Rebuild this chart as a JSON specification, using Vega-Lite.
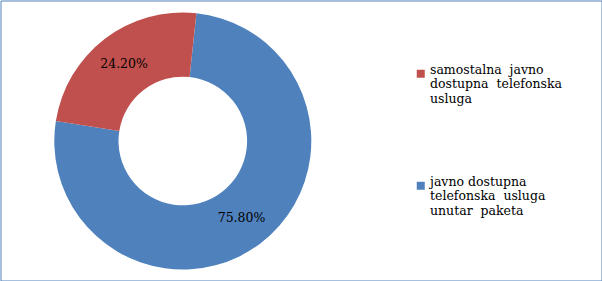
{
  "$schema": "https://vega.github.io/schema/vega-lite/v6.json",
  "width": 602,
  "height": 281,
  "autosize": {"type": "fit", "contains": "padding"},
  "padding": 0.5,
  "background": "white",
  "config": {
    "view": {"stroke": "#4F81BD", "strokeWidth": 1},
    "font": "DejaVu Serif"
  },
  "data": {
    "values": [
      {"kategorija": "javno dostupna telefonska usluga unutar paketa", "udio": 75.8, "oznaka": "75.80%", "red": 1},
      {"kategorija": "samostalna javno dostupna telefonska usluga", "udio": 24.2, "oznaka": "24.20%", "red": 2}
    ]
  },
  "encoding": {
    "theta": {"field": "udio", "type": "quantitative", "stack": true, "scale": {"range": [0.106, 6.389]}},
    "order": {"field": "red", "type": "quantitative"},
    "x": {"value": 182.3},
    "y": {"value": 140.5}
  },
  "layer": [
    {
      "mark": {"type": "arc", "innerRadius": 64.3, "outerRadius": 128.5},
      "encoding": {
        "color": {
          "field": "kategorija",
          "type": "nominal",
          "scale": {
            "domain": ["samostalna javno dostupna telefonska usluga", "javno dostupna telefonska usluga unutar paketa"],
            "range": ["#C0504D", "#4F81BD"]
          },
          "legend": {
            "title": null,
            "orient": "none",
            "legendX": 414,
            "legendY": 67,
            "symbolType": "square",
            "symbolSize": 64,
            "symbolStrokeWidth": 0,
            "symbolOpacity": 1,
            "labelFont": "DejaVu Serif",
            "labelFontSize": 12.5,
            "labelColor": "#000000",
            "labelBaseline": "alphabetic",
            "labelOffset": 3,
            "labelLimit": 200,
            "rowPadding": 70,
            "labelExpr": "datum.label == 'samostalna javno dostupna telefonska usluga' ? ['samostalna\u00a0 javno', 'dostupna\u00a0 telefonska', 'usluga'] : ['javno dostupna', 'telefonska\u00a0 usluga', 'unutar\u00a0 paketa']",
            "encode": {
              "labels": {"lineHeight": {"value": 15.5}}
            }
          }
        }
      }
    },
    {
      "mark": {"type": "text", "radius": 96.5, "font": "DejaVu Serif", "fontSize": 12.5, "color": "#000000", "align": "center", "baseline": "middle"},
      "encoding": {
        "text": {"field": "oznaka", "type": "nominal"}
      }
    }
  ]
}
